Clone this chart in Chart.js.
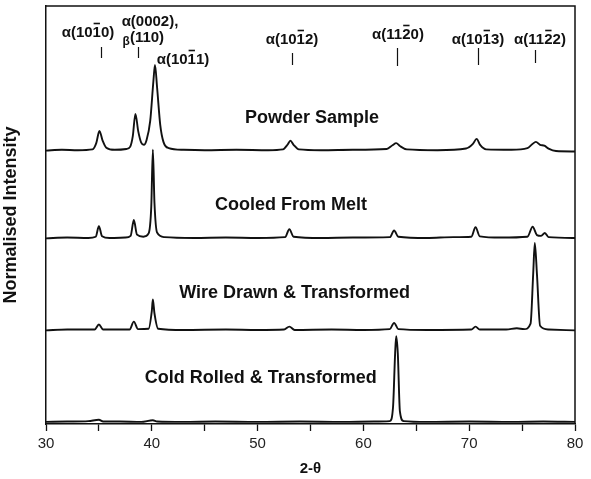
<!DOCTYPE html>
<html><head><meta charset="utf-8">
<script src="https://cdn.jsdelivr.net/npm/chart.js@4.4.0/dist/chart.umd.min.js"></script>
<style>html,body{margin:0;padding:0;background:#fff;}canvas{display:block}</style>
</head><body>
<canvas id="c" width="591" height="479"></canvas>
<script>
// ---- data ----
const xTickValues = [30, 40, 50, 60, 70, 80];
const seriesNames = ['Powder Sample', 'Cooled From Melt', 'Wire Drawn & Transformed', 'Cold Rolled & Transformed'];

const powderX = [30,31.5,33,34.4,34.75,35.05,35.35,35.7,36.5,37.6,37.95,38.2,38.45,38.72,39.0,39.25,39.5,39.85,40.15,40.3,40.5,40.8,41.1,41.6,43,45,48,51,52.4,52.85,53.1,53.4,53.9,56,59,62.2,62.75,63.1,63.45,64.1,67,69.7,70.35,70.7,71.05,71.6,74,75.5,75.95,76.3,76.7,77.1,77.5,78.2,80];
const powderY = [65.4,65.6,65.5,65.7,67.2,70.1,67.8,66.1,65.6,65.8,66.3,68.8,74.2,70.0,67.3,66.8,67.9,72.5,82.0,85.9,80.5,71.5,67.5,66.0,65.6,65.5,65.6,65.5,65.7,66.9,67.8,66.8,65.7,65.5,65.6,65.8,66.7,67.2,66.5,65.7,65.5,65.9,67.0,68.2,66.7,65.7,65.6,66.0,66.9,67.5,66.8,66.6,65.9,65.3,65.2];

const cooledX = [30,32,34,34.7,35,35.3,36,37.5,38,38.3,38.6,39.2,39.7,39.95,40.1,40.25,40.5,41.2,44,47,50,52.6,53,53.4,56,59,62.5,62.9,63.3,66,68.5,70.2,70.6,71,73,75.5,76,76.4,76.8,77.15,77.5,80];
const cooledY = [44.4,44.6,44.5,44.8,47.3,44.9,44.5,44.6,45.0,48.8,45.3,44.8,45.6,52,65.6,53,45.8,44.7,44.5,44.6,44.5,44.7,46.6,44.8,44.5,44.6,44.7,46.3,44.8,44.5,44.7,44.8,47.1,44.9,44.6,44.8,47.2,45.2,45.0,45.7,44.7,44.5];

const wireX = [30,32,34.6,35,35.4,37.9,38.3,38.7,39.7,40,40.1,40.25,40.6,43,47,50,52.5,53,53.5,57,60,62.5,62.9,63.3,66,70.2,70.6,71,73.5,74.5,75.2,75.8,76.05,76.2,76.4,76.7,77.5,80];
const wireY = [22.4,22.6,22.6,23.8,22.6,22.6,24.5,22.7,22.8,27,29.8,26.5,22.8,22.5,22.6,22.5,22.6,23.3,22.5,22.6,22.5,22.7,24.2,22.7,22.5,22.6,23.3,22.6,22.6,22.9,22.7,24,36,43.3,36,23.5,22.6,22.4];

const coldX = [30,32,34,35,35.4,37,39,40.1,40.5,43,46,50,54,58,61,62.5,62.8,63,63.1,63.25,63.45,63.8,66,70,74,77,80];
const coldY = [0.5,0.6,0.7,1.0,0.6,0.6,0.5,0.9,0.6,0.5,0.6,0.5,0.6,0.5,0.6,0.7,4.0,17,21.0,17,3,0.7,0.5,0.6,0.5,0.6,0.5];

// reflection markers (2-theta) and their labels
const peakMarkers = [35.2, 38.7, 53.25, 63.2, 70.8, 76.2];
const peakLabelParts = [
  ['α(10', '1', '0)'],
  ['α(0002),', '', ''],
  ['(110)', '', ''],
  ['α(10', '1', '1)'],
  ['α(10', '1', '2)'],
  ['α(11', '2', '0)'],
  ['α(10', '1', '3)'],
  ['α(11', '2', '2)']
];

// ---- layout (pixels / anchors), kept apart from data ----
const FONT = '"Liberation Sans", Arial, Helvetica, sans-serif';
const markerSpans = [[47,58],[47,58],[53,65],[48,66],[48,65],[50,63]];
const peakLabelPos = [[88,37],[150,26],[147,42],[183,64],[292,44],[398,39],[478,44],[540,44]];
const seriesLabelAnchor = [[55.14,73.2],[53.16,52.4],[53.5,31.3],[50.3,11.0]];

function pairs(xs, ys){ return xs.map((x,i)=>({x:x, y:ys[i]})); }

function drawBarText(ctx, parts, cx, y){
  const [pre, bar, post] = parts;
  const w1 = ctx.measureText(pre).width, w2 = ctx.measureText(bar).width, w3 = ctx.measureText(post).width;
  let x = cx - (w1+w2+w3)/2;
  ctx.textAlign = 'left';
  ctx.fillText(pre, x, y);
  ctx.fillText(bar, x+w1, y);
  ctx.fillText(post, x+w1+w2, y);
  if (bar) {
    ctx.save();
    ctx.lineWidth = 1.6;
    ctx.beginPath();
    ctx.moveTo(x+w1+1, y-13.5);
    ctx.lineTo(x+w1+w2-1, y-13.5);
    ctx.stroke();
    ctx.restore();
  }
}

const decor = {
  id: 'decor',
  afterDraw(chart){
    const ctx = chart.ctx, a = chart.chartArea, xs = chart.scales.x, ys = chart.scales.y;
    ctx.save();
    ctx.strokeStyle = '#111';
    ctx.lineWidth = 1.5;
    ctx.beginPath();
    ctx.moveTo(a.left, a.top); ctx.lineTo(a.right, a.top); ctx.lineTo(a.right, a.bottom);
    ctx.stroke();
    // marker lines
    ctx.lineWidth = 1.2;
    peakMarkers.forEach((v,i)=>{
      const px = Math.round(xs.getPixelForValue(v)) + 0.5;
      ctx.beginPath(); ctx.moveTo(px, markerSpans[i][0]); ctx.lineTo(px, markerSpans[i][1]); ctx.stroke();
    });
    // peak labels
    ctx.fillStyle = '#111';
    ctx.textBaseline = 'alphabetic';
    ctx.font = 'bold 15px ' + FONT;
    peakLabelParts.forEach((p,i)=>{
      const [cx, cy] = peakLabelPos[i];
      drawBarText(ctx, p, cx, cy);
    });
    // beta prefix
    const w110 = ctx.measureText('(110)').width;
    ctx.font = 'bold 12px ' + FONT;
    ctx.textAlign = 'right';
    ctx.fillText('β', peakLabelPos[2][0] - w110/2, peakLabelPos[2][1] + 3);
    // series names
    ctx.font = 'bold 18px ' + FONT;
    ctx.textAlign = 'center';
    ctx.textBaseline = 'middle';
    seriesNames.forEach((n,i)=>{
      const [vx, vy] = seriesLabelAnchor[i];
      ctx.fillText(n, xs.getPixelForValue(vx), ys.getPixelForValue(vy));
    });
    ctx.restore();
  }
};

const lineStyle = {borderColor:'#111', borderWidth:1.9, pointRadius:0, fill:false, cubicInterpolationMode:'monotone'};

new Chart(document.getElementById('c'), {
  type: 'line',
  data: {
    datasets: [
      Object.assign({label: seriesNames[0], data: pairs(powderX, powderY)}, lineStyle),
      Object.assign({label: seriesNames[1], data: pairs(cooledX, cooledY)}, lineStyle),
      Object.assign({label: seriesNames[2], data: pairs(wireX, wireY)}, lineStyle),
      Object.assign({label: seriesNames[3], data: pairs(coldX, coldY)}, lineStyle)
    ]
  },
  options: {
    responsive: false,
    animation: false,
    devicePixelRatio: 1,
    layout: {padding: {top: 6, right: 16, left: 0, bottom: 0}},
    plugins: {legend: {display: false}, tooltip: {enabled: false}},
    scales: {
      x: {
        type: 'linear', min: 30, max: 80,
        afterFit(s){ s.height = 55; },
        afterBuildTicks(s){ s.ticks = [30,35,40,45,50,55,60,65,70,75,80].map(v=>({value:v})); },
        ticks: {
          autoSkip: false, maxRotation: 0, padding: 4,
          color: '#222', font: {family: FONT, size: 15},
          callback: (v)=> xTickValues.includes(v) ? String(v) : ''
        },
        grid: {display: true, drawOnChartArea: false, drawTicks: true, tickLength: 7, tickColor: '#111', tickWidth: 1.3},
        border: {display: true, color: '#111', width: 1.5},
        title: {display: true, text: '2-θ', color: '#111', font: {family: FONT, size: 15, weight: 'bold'}, padding: {top: 4, bottom: 1}}
      },
      y: {
        type: 'linear', min: 0, max: 100,
        afterFit(s){ s.width = 46; },
        ticks: {display: false},
        grid: {display: false, drawTicks: false},
        border: {display: true, color: '#111', width: 1.5},
        title: {display: true, text: 'Normalised Intensity', color: '#111', font: {family: FONT, size: 18, weight: 'bold'}, padding: {top: 0, bottom: 0}}
      }
    }
  },
  plugins: [decor]
});
</script>
</body></html>
